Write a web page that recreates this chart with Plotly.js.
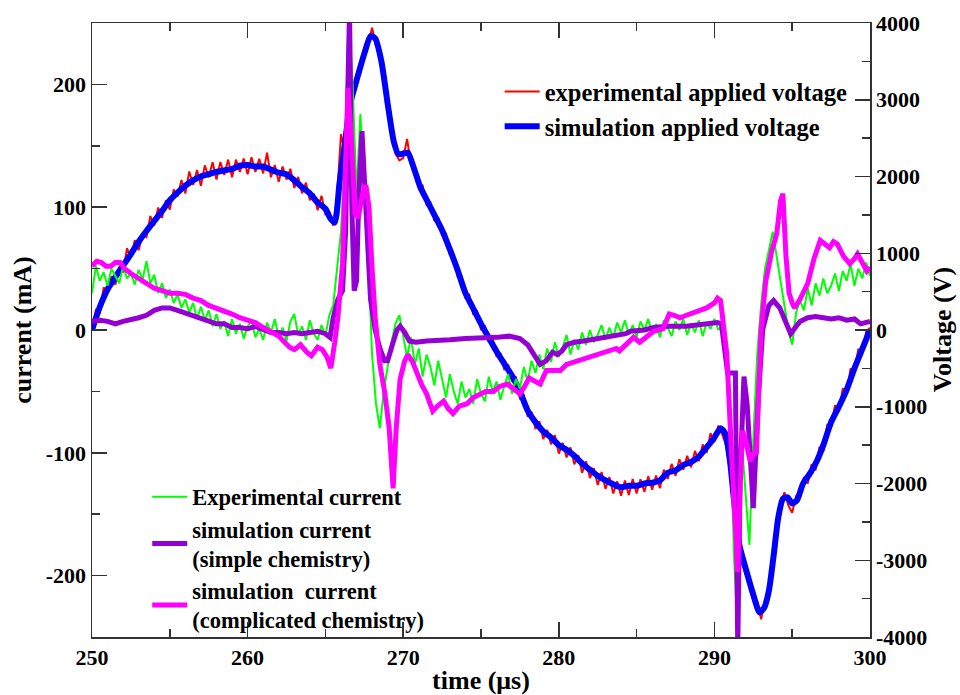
<!DOCTYPE html>
<html>
<head>
<meta charset="utf-8">
<script src="https://cdn.plot.ly/plotly-3.0.1.min.js"></script>
<style>html,body{margin:0;padding:0;background:#fff;}#chart{width:960px;height:695px;}</style>
</head>
<body>
<div id="chart"></div>
<script>
// ---------- DATA ----------
// Experimental series sampled every 0.25 µs from 250 to 300 µs
const expStart = 250;
const expStep = 0.25;

const expVoltage = [
  20,260,230,555,490,700,590,825,750,1065,940,1170,1040,1250,1210,1485,1360,1595,1460,1690,
  1570,1830,1740,1955,1780,2065,1890,2085,1880,2145,1990,2185,1960,2190,2020,2220,1990,2220,2060,2235,
  2030,2250,2060,2230,2040,2310,1990,2150,1930,2130,1960,2100,1850,1995,1780,1920,1690,1780,1560,1750,
  1510,1540,1360,1730,2550,2320,2860,3000,3310,3375,3680,3710,3940,3700,3655,3220,3020,2580,2300,2210,
  2240,2490,2150,2140,1860,1880,1630,1660,1420,1470,1240,1255,980,975,700,700,420,460,210,240,
  0,60,-160,-110,-350,-300,-520,-450,-660,-620,-890,-855,-1130,-1065,-1290,-1190,-1420,-1300,-1490,-1370,
  -1610,-1470,-1660,-1530,-1750,-1630,-1860,-1710,-1930,-1800,-2020,-1850,-2070,-1915,-2130,-1970,-2160,-1960,-2150,-1940,
  -2130,-1945,-2110,-1905,-2080,-1895,-2060,-1820,-1940,-1745,-1900,-1685,-1820,-1640,-1790,-1575,-1710,-1490,-1600,-1345,
  -1460,-1245,-1360,-1500,-1850,-2400,-2780,-3010,-3180,-3215,-3530,-3530,-3770,-3525,-3480,-2965,-2700,-2265,-2115,-2285,
  -2380,-2167,-2190,-1915,-2000,-1750,-1827,-1525,-1580,-1240,-1270,-980,-1060,-760,-840,-500,-550,-245,-310,-25,
  30
];

const expCurrent = [
  30,52,40,47,36,50,44,38,52,42,46,37,49,41,56,38,45,30,38,26,
  33,22,29,18,25,14,22,9,19,8,16,3,13,1,7,-5,9,-3,5,-7,
  3,8,-6,1,-8,6,-2,9,-6,2,-9,7,13,-4,3,-8,8,-3,-8,4,
  -5,12,
  20,48,80,140,255,200,110,176,110,60,-20,-60,-80,-50,-30,-10,5,12,
  -5,-22,-6,-28,-15,-38,-20,-30,-45,-25,-40,-55,-36,-50,-60,-42,-55,-48,-60,-40,
  -52,-58,-38,-50,-42,-57,-45,-36,-52,-40,-48,-30,-42,-25,-35,-20,-32,-15,-26,-10,
  -22,-14,-4,-20,-8,-16,-2,-12,0,-10,-4,4,-8,2,-6,6,-2,8,-4,4,
  -6,7,0,9,-3,5,-6,8,2,-5,7,0,9,-4,5,-2,8,-5,6,1,
  9,0,4,
  -30,-60,-180,-250,-90,-130,-175,-90,-20,20,50,65,80,60,40,20,0,-12,14,24,
  16,34,20,38,28,42,30,36,46,32,48,40,54,36,50,42,55,44
];

// Simulated applied voltage (V)
const simVoltTime = [250,250.5,251,251.5,252,252.5,253,253.5,254,254.5,255,255.5,256,256.5,257,257.5,258,258.5,259,259.5,
  260,260.5,261,261.5,262,262.5,263,263.5,264,264.5,265,265.3,265.6,265.9,266.2,266.6,267,267.5,267.9,268.2,
  268.6,269,269.4,269.7,270,270.3,270.7,271.1,271.5,272,272.5,273,273.5,274,274.5,275,275.5,276,276.5,277,
  277.5,278,278.5,279,279.5,280,280.5,281,281.5,282,282.5,283,283.5,284,284.5,285,285.5,286,286.5,287,
  287.5,288,288.5,289,289.5,290,290.4,290.7,291,291.3,291.6,292,292.5,292.9,293.2,293.5,293.8,294.1,294.4,294.7,
  295,295.3,295.7,296.2,296.6,297,297.5,298,298.5,299,299.5,300];
const simVoltage = [0,300,530,690,840,990,1150,1290,1420,1550,1690,1790,1880,1950,2000,2030,2060,2080,2100,2140,
  2150,2130,2130,2090,2050,2030,1950,1860,1780,1660,1580,1460,1400,1900,2350,2950,3250,3600,3830,3800,
  3500,2950,2450,2290,2300,2310,2100,1860,1700,1500,1300,1050,780,480,280,80,-100,-280,-440,-600,
  -800,-1050,-1200,-1320,-1400,-1500,-1560,-1640,-1740,-1820,-1900,-1960,-2010,-2050,-2030,-2030,-2000,-1990,-1960,-1860,
  -1830,-1760,-1720,-1650,-1530,-1400,-1280,-1350,-1700,-2300,-2800,-3100,-3450,-3680,-3620,-3400,-2950,-2450,-2200,-2180,
  -2260,-2220,-2000,-1850,-1700,-1500,-1200,-1000,-780,-500,-250,0];

// Simulated current, simple chemistry (mA)
const simpleTime = [250,250.5,251,251.5,252,252.5,253,253.5,254,254.5,255,255.5,256,256.5,257,257.5,258,258.5,259,259.5,
  260,260.5,261,261.5,262,262.5,263,263.5,264,264.5,265,265.3,265.5,265.8,266.1,266.3,266.45,266.55,266.7,266.85,
  267,267.15,267.35,267.55,267.7,267.9,268.2,268.5,268.8,269,269.3,269.6,269.8,270.1,270.4,270.8,271.5,272,273,274,
  275,276,276.8,277.5,278,278.5,278.8,279.2,279.6,279.9,280.2,280.5,281,281.6,282.6,283.7,284.3,284.6,285.5,286.1,
  287,288.2,289.2,290.2,290.45,290.7,290.85,291.35,291.5,291.65,291.9,292.1,292.5,292.8,293.1,293.5,293.8,294.2,294.6,294.9,
  295.2,295.5,296,296.5,297,297.5,298,298.5,299,299.4,300];
const simpleCurrent = [7,8,7,5,7,8,10,12,16,18,18,16,14,12,10,7,5,5,2,2,
  1,3,1,-2,-2,-3,-2,-3,-2,-1,-3,-6,10,25,32,80,200,260,100,32,
  40,110,162,110,60,25,0,-15,-25,-25,-12,0,3,-2,-9,-10,-9,-9,-8,-7,
  -7,-6,-5,-7,-12,-22,-28,-25,-18,-20,-17,-12,-10,-9,-7,-5,-3,-1,0,2,
  3,3,4,6,5,-25,-35,-35,-260,-120,-38,-60,-145,-60,0,20,24,18,5,-3,
  2,7,10,11,10,9,10,8,9,5,7];

// Simulated current, complicated chemistry (mA)
const complexTime = [250,250.3,250.6,250.9,251.2,251.5,251.8,252.1,252.5,253,253.5,254,254.5,255,255.5,256,256.5,257,257.5,258,
  258.5,259,259.5,260,260.5,261,261.5,262,262.3,262.7,263,263.4,263.8,264.1,264.5,264.8,265.1,265.35,265.6,265.8,
  266.1,266.3,266.45,266.7,266.9,267.1,267.4,267.6,267.8,268,268.2,268.5,268.8,269.1,269.35,269.55,269.8,270.1,270.3,270.6,
  270.9,271.2,271.5,271.9,272.2,272.6,272.9,273.2,273.6,274.1,274.5,274.9,275.3,275.8,276.2,276.7,277.1,277.5,277.8,278.1,
  278.5,278.8,279.2,279.6,280.1,280.5,281,281.6,282.1,282.6,283.1,283.7,283.9,284.3,284.8,285.2,285.6,286.1,286.7,287.1,
  287.4,287.8,288.2,288.6,289,289.5,290,290.2,290.4,290.6,290.8,291.1,291.35,291.5,291.65,291.8,292,292.3,292.5,292.7,
  293,293.3,293.7,294,294.25,294.4,294.6,294.8,295,295.15,295.5,296,296.4,296.8,297.1,297.4,297.65,297.9,298.3,298.7,
  299,299.2,299.5,299.8,300];
const complexCurrent = [52,56,55,52,52,55,55,50,46,42,38,34,32,30,30,29,26,24,20,18,
  15,13,10,8,6,2,-2,-5,-9,-14,-16,-12,-18,-21,-14,-16,-22,-31,-10,10,
  54,130,197,150,95,91,111,118,100,50,10,-28,-50,-80,-129,-80,-40,-25,-20,-26,
  -36,-45,-52,-66,-62,-58,-64,-68,-62,-60,-55,-52,-50,-50,-46,-44,-48,-52,-46,-39,
  -42,-44,-33,-33,-33,-28,-26,-23,-22,-20,-18,-15,-17,-12,-6,-10,-6,-1,1,13,
  12,10,12,14,16,18,22,26,24,5,-20,-100,-170,-197,-130,-82,-90,-107,-101,-100,
  0,40,65,78,105,111,60,30,22,18,25,38,58,73,70,67,72,70,60,54,
  58,62,55,48,51];

// Tick labels
const timeTicks = [250,260,270,280,290,300];
const timeTickText = ["250","260","270","280","290","300"];
const currentTicks = [-200,-100,0,100,200];
const currentTickText = ["-200","-100","0","100","200"];
const voltTicks = [-4000,-3000,-2000,-1000,0,1000,2000,3000,4000];
const voltTickText = ["-4000","-3000","-2000","-1000","0","1000","2000","3000","4000"];

// ---------- BUILD ----------
const expTime = expVoltage.map((_, i) => expStart + i * expStep);
const expTimeC = expCurrent.map((_, i) => expStart + i * expStep);
const FONT = "'Liberation Serif', 'Times New Roman', serif";
const AX = "#333333";

const traces = [
  {x: expTime, y: expVoltage, type: "scatter", mode: "lines", yaxis: "y",
   name: "experimental applied voltage", legend: "legend",
   line: {color: "#ff0000", width: 2}},
  {x: simVoltTime, y: simVoltage, type: "scatter", mode: "lines", yaxis: "y",
   name: "simulation applied voltage", legend: "legend",
   line: {color: "#0000ff", width: 6, shape: "spline", smoothing: 0.6}},
  {x: expTimeC, y: expCurrent, type: "scatter", mode: "lines", yaxis: "y2",
   name: "Experimental current", legend: "legend2",
   line: {color: "#00ff00", width: 2}},
  {x: simpleTime, y: simpleCurrent, type: "scatter", mode: "lines", yaxis: "y2",
   name: "simulation current<br>(simple chemistry)", legend: "legend2",
   line: {color: "#9400d3", width: 5}},
  {x: complexTime, y: complexCurrent, type: "scatter", mode: "lines", yaxis: "y2",
   name: "simulation\u00a0 current<br>(complicated chemistry)", legend: "legend2",
   line: {color: "#ff00ff", width: 5}}
];

const tf = {family: FONT, size: 22, weight: "bold", color: "#000"};
const layout = {
  width: 960, height: 695,
  margin: {l: 92, r: 90, t: 23, b: 58},
  paper_bgcolor: "#ffffff", plot_bgcolor: "#ffffff",
  font: {family: FONT, size: 22, color: "#000000", weight: "bold"},
  xaxis: {
    range: [250, 300], showgrid: false, zeroline: false,
    showline: true, linecolor: AX, linewidth: 1.5, mirror: "ticks",
    ticks: "inside", ticklen: 15, tickwidth: 1.5, tickcolor: AX,
    tickmode: "array", tickvals: timeTicks, ticktext: timeTickText, tickfont: tf,
    minor: {ticks: "inside", ticklen: 8, tickwidth: 1.5, tickcolor: AX, tick0: 250, dtick: 5, showgrid: false},
    title: {text: "time (μs)", font: {family: FONT, size: 26, weight: "bold"}, standoff: 4}
  },
  yaxis: {
    range: [-4000, 4000], side: "right", showgrid: false, zeroline: false,
    showline: true, linecolor: AX, linewidth: 1.5,
    ticks: "inside", ticklen: 15, tickwidth: 1.5, tickcolor: AX,
    tickmode: "array", tickvals: voltTicks, ticktext: voltTickText, tickfont: tf,
    minor: {ticks: "inside", ticklen: 8, tickwidth: 1.5, tickcolor: AX, tick0: 0, dtick: 500, showgrid: false}
  },
  yaxis2: {
    range: [-250, 250], side: "left", overlaying: "y", showgrid: false, zeroline: false,
    showline: true, linecolor: AX, linewidth: 1.5,
    ticks: "inside", ticklen: 15, tickwidth: 1.5, tickcolor: AX,
    tickmode: "array", tickvals: currentTicks, ticktext: currentTickText, tickfont: tf,
    minor: {ticks: "inside", ticklen: 8, tickwidth: 1.5, tickcolor: AX, tick0: 0, dtick: 50, showgrid: false},
    title: {text: "current (mA)", font: {family: FONT, size: 26, weight: "bold"}, standoff: 6}
  },
  annotations: [{
    text: "Voltage (V)", xref: "paper", yref: "paper", x: 1.093, y: 0.5,
    xanchor: "center", yanchor: "middle", textangle: -90, showarrow: false,
    font: {family: FONT, size: 26, weight: "bold", color: "#000"}
  }],
  legend: {
    x: 0.524, y: 0.925, xanchor: "left", yanchor: "top",
    bgcolor: "rgba(0,0,0,0)", borderwidth: 0, itemwidth: 35,
    font: {family: FONT, size: 24.5, weight: "bold", color: "#000"},
    tracegroupgap: 0
  },
  legend2: {
    x: 0.071, y: 0.263, xanchor: "left", yanchor: "top",
    bgcolor: "rgba(0,0,0,0)", borderwidth: 0, itemwidth: 35,
    font: {family: FONT, size: 22.5, weight: "bold", color: "#000"},
    tracegroupgap: 0
  },
  showlegend: true
};

Plotly.newPlot("chart", traces, layout, {displayModeBar: false, staticPlot: true});
</script>
</body>
</html>
